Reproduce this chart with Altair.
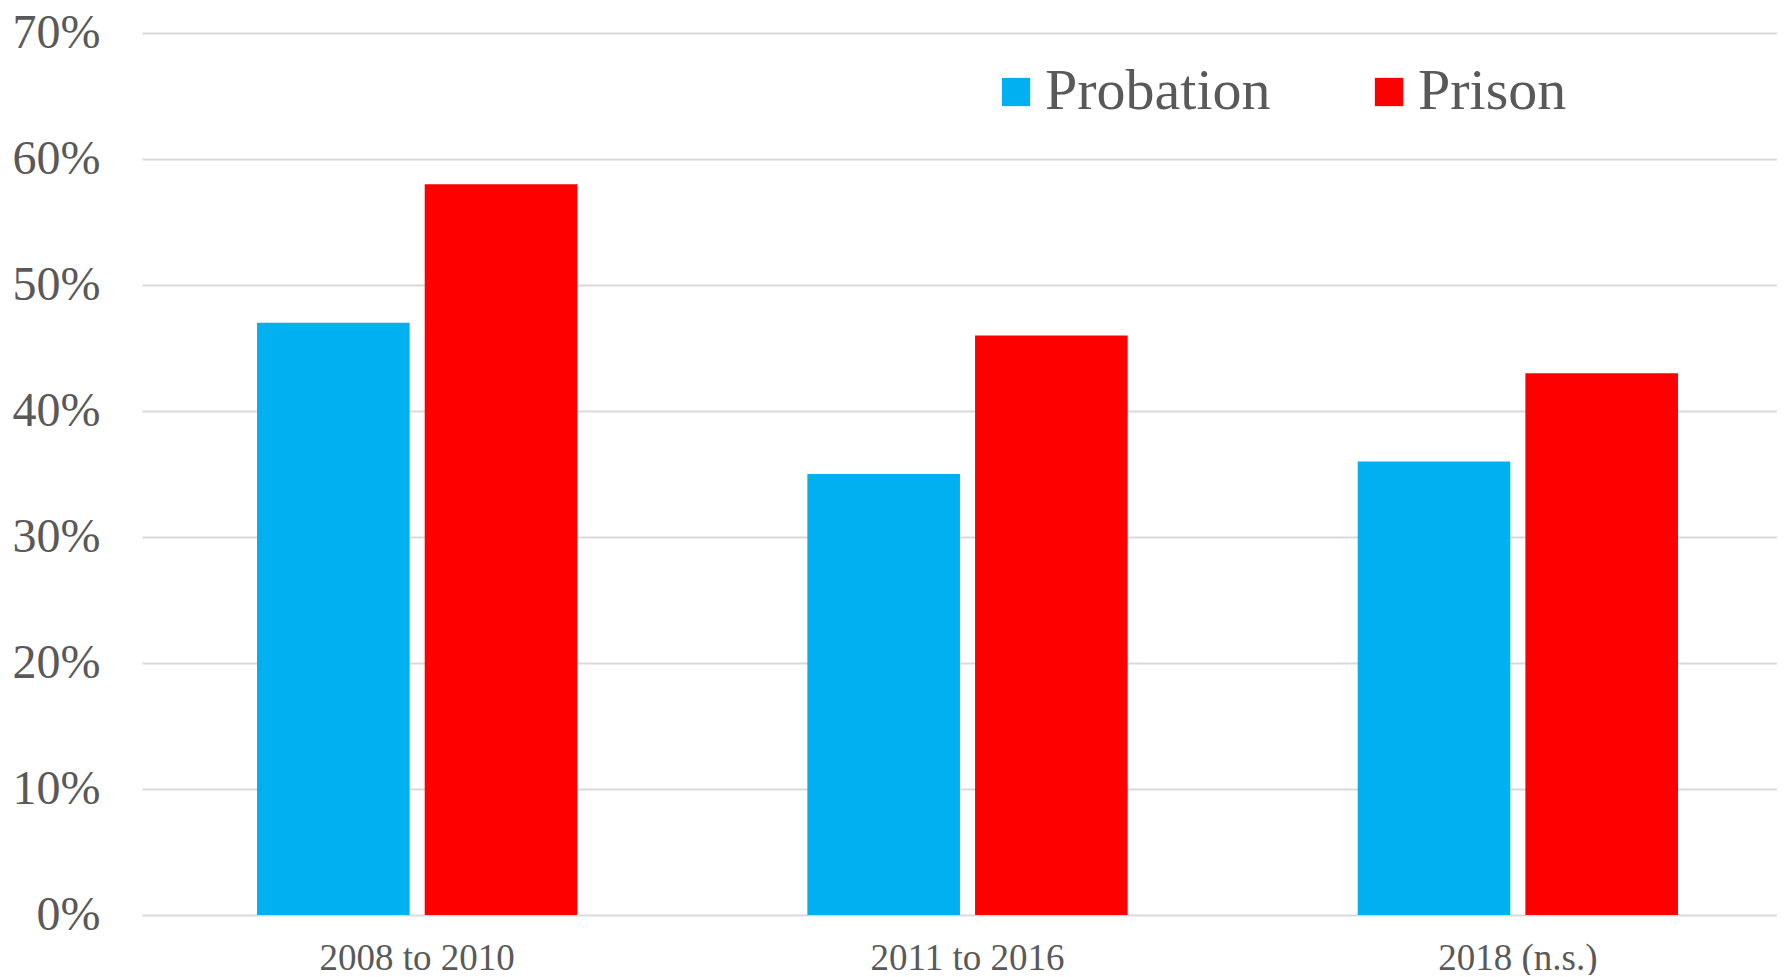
import altair as alt
import pandas as pd

categories = ["2008 to 2010", "2011 to 2016", "2018 (n.s.)"]
probation = [47, 35, 36]
prison = [58, 46, 43]
series = ["Probation", "Prison"]
colors = ["#00B0F0", "#FF0000"]

rows = []
for c, p, q in zip(categories, probation, prison):
    rows.append({"period": c, "group": "Probation", "value": p})
    rows.append({"period": c, "group": "Prison", "value": q})
df = pd.DataFrame(rows)

FONT = "Liberation Serif"
TXT = "#595959"

chart = alt.Chart(df).mark_bar().encode(
    x=alt.X("period:N", sort=categories, title=None,
            scale=alt.Scale(paddingInner=0.418, paddingOuter=0.209,
                            range=[1, 1652]),
            axis=alt.Axis(labelAngle=0, labelFontSize=37, labelFont=FONT,
                          labelColor=TXT, labelPadding=25, ticks=False,
                          domain=False, grid=False, labelLimit=600)),
    xOffset=alt.XOffset("group:N", sort=series,
                        scale=alt.Scale(paddingInner=0.09, paddingOuter=0)),
    y=alt.Y("value:Q", title=None,
            scale=alt.Scale(domain=[0, 70]),
            axis=alt.Axis(values=[0, 10, 20, 30, 40, 50, 60, 70],
                          labelExpr="datum.value + '%'",
                          labelFontSize=48, labelFont=FONT, labelColor=TXT,
                          labelPadding=41, ticks=False, domain=False,
                          grid=True, gridColor="#D9D9D9", gridWidth=2)),
    color=alt.Color("group:N", sort=series,
                    scale=alt.Scale(domain=series, range=colors),
                    legend=alt.Legend(title=None, orient="none",
                                      direction="horizontal",
                                      legendX=846, legendY=30,
                                      symbolType="square", symbolSize=800,
                                      symbolStrokeWidth=0,
                                      labelFontSize=58, labelFont=FONT,
                                      labelColor=TXT, labelOffset=0,
                                      columnPadding=89, labelLimit=400)),
).properties(
    width=1636, height=882,
    padding={"left": 133, "top": 25, "right": 0, "bottom": 60},
    autosize=alt.AutoSizeParams(type="none"),
).configure_view(stroke=None)

chart.save("out.html", embed_options={"renderer": "svg", "actions": False})
